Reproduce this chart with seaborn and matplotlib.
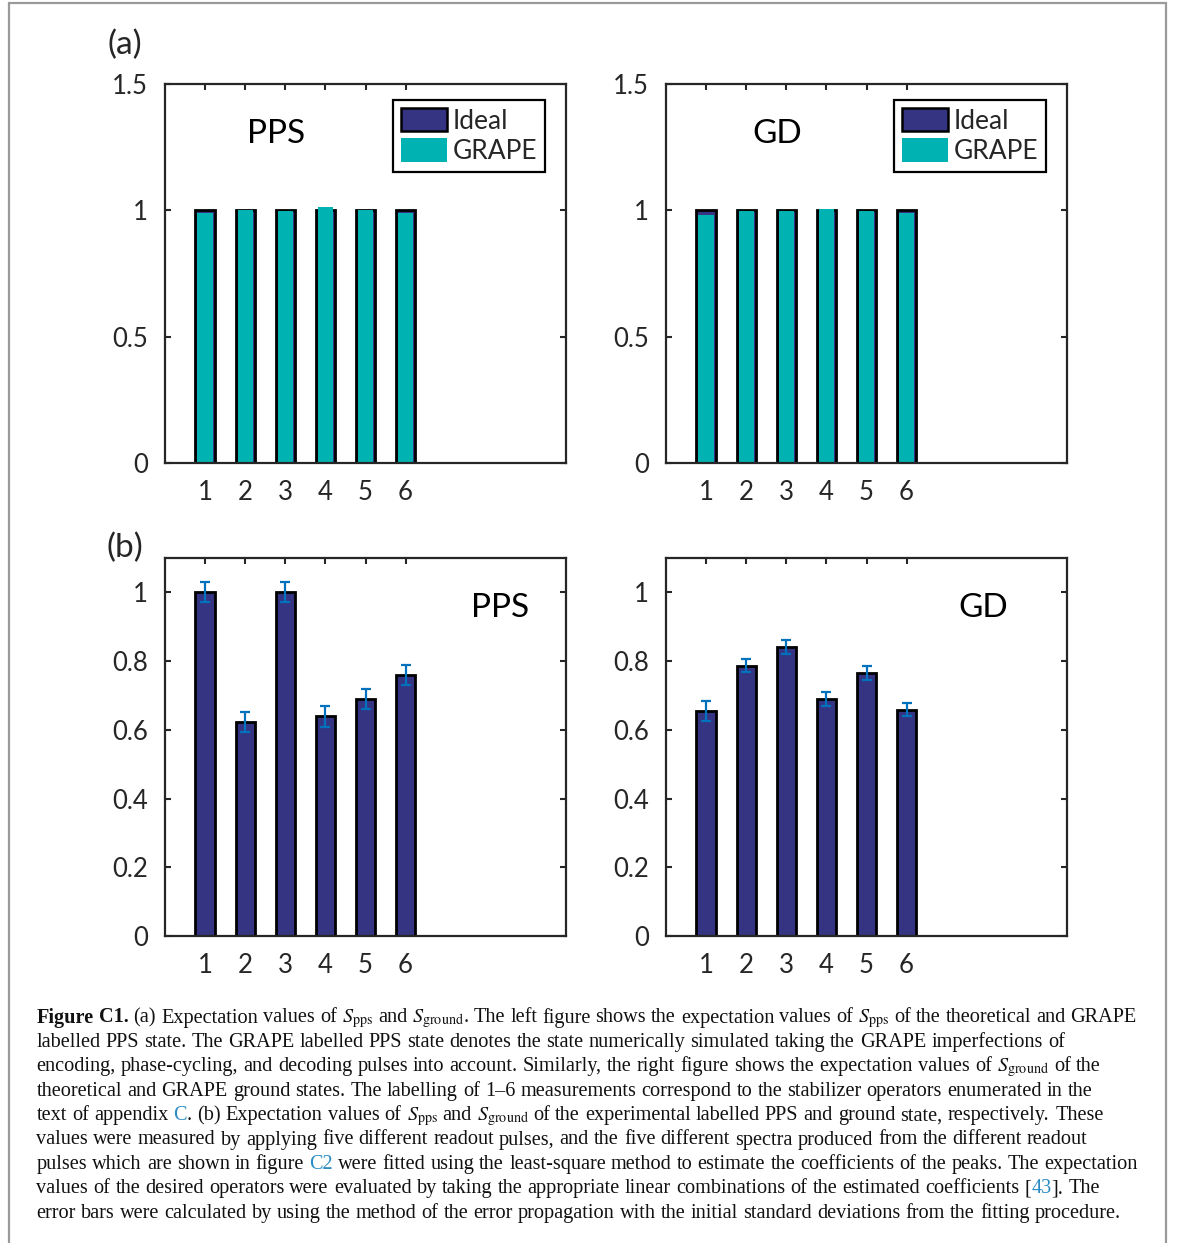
import numpy as np
import pandas as pd
import matplotlib.pyplot as plt
import seaborn as sns
from matplotlib.patches import Patch, Rectangle

# stabilizer index 1-6
stabilizers = [1, 2, 3, 4, 5, 6]

# (a) theory vs GRAPE simulation
pps_ideal = [1.0, 1.0, 1.0, 1.0, 1.0, 1.0]
pps_grape = [0.988, 1.0, 0.998, 1.012, 1.0, 0.99]
gd_ideal = [1.0, 1.0, 1.0, 1.0, 1.0, 1.0]
gd_grape = [0.982, 0.996, 0.996, 1.006, 0.996, 0.988]

# (b) experiment with error bars
pps_exp = [1.0, 0.622, 1.0, 0.639, 0.689, 0.759]
pps_err = [0.029, 0.029, 0.029, 0.030, 0.029, 0.029]
gd_exp = [0.655, 0.787, 0.841, 0.689, 0.765, 0.659]
gd_err = [0.028, 0.020, 0.020, 0.020, 0.020, 0.019]

NAVY = '#353482'
TEAL = '#00b2b2'
ERR = '#0072bd'
AXC = '#262626'
LINK = '#2b8cc4'

sns.set_style('ticks')
plt.rcParams['font.family'] = ['Lato', 'DejaVu Sans']
plt.rcParams['mathtext.fontset'] = 'stix'

W, H = 1182, 1243
fig = plt.figure(figsize=(W / 100, H / 100), dpi=100)


def px_axes(left, top, right, bottom):
    return fig.add_axes([left / W, 1 - bottom / H, (right - left) / W, (bottom - top) / H])


def style_axes(ax, ymax, yticks, ylabels):
    ax.set_xlim(0, 10)
    ax.set_ylim(0, ymax)
    ax.set_xticks(stabilizers)
    ax.set_xticklabels([str(s) for s in stabilizers])
    ax.set_yticks(yticks)
    ax.set_yticklabels(ylabels)
    ax.tick_params(direction='in', length=4, width=1.5, top=True, right=True,
                   labelsize=18.5, labelcolor=AXC, color=AXC, pad=12)
    for sp in ax.spines.values():
        sp.set_visible(True)
        sp.set_linewidth(1.6)
        sp.set_color(AXC)
    ax.set_xlabel('')
    ax.set_ylabel('')


# (a) panels
for left, ideal, grape, name in [(165, pps_ideal, pps_grape, 'PPS'),
                                 (666, gd_ideal, gd_grape, 'GD')]:
    ax = px_axes(left, 84, left + 401, 463)
    df = pd.DataFrame({'s': stabilizers, 'ideal': ideal, 'grape': grape})
    sns.barplot(data=df, x='s', y='ideal', native_scale=True, width=0.48,
                color=NAVY, saturation=1, edgecolor='black', linewidth=2.0,
                errorbar=None, ax=ax)
    sns.barplot(data=df, x='s', y='grape', native_scale=True, width=0.38,
                color=TEAL, saturation=1, linewidth=0, errorbar=None, ax=ax)
    style_axes(ax, 1.5, [0, 0.5, 1, 1.5], ['0', '0.5', '1', '1.5'])
    ax.text(0.277, 0.868, name, transform=ax.transAxes, ha='center', va='center',
            fontsize=24, color='black')
    handles = [Patch(facecolor=NAVY, edgecolor='black', linewidth=1.8, label='Ideal'),
               Patch(facecolor=TEAL, edgecolor='none', label='GRAPE')]
    leg = ax.legend(handles=handles, loc='upper left', bbox_to_anchor=(0.569, 0.958),
                    fontsize=19, frameon=True, fancybox=False, framealpha=1,
                    borderaxespad=0, borderpad=0.3, handlelength=1.75, handleheight=1.0,
                    handletextpad=0.2, labelspacing=0.18)
    leg.get_frame().set_edgecolor('black')
    leg.get_frame().set_linewidth(1.6)

# (b) panels
for left, vals, errs, name, tx in [(165, pps_exp, pps_err, 'PPS', 0.835),
                                   (666, gd_exp, gd_err, 'GD', 0.79)]:
    ax = px_axes(left, 558, left + 401, 936)
    df = pd.DataFrame({'s': stabilizers, 'v': vals, 'e': errs})
    sns.barplot(data=df, x='s', y='v', native_scale=True, width=0.48,
                color=NAVY, saturation=1, edgecolor='black', linewidth=2.0,
                errorbar=None, ax=ax)
    ax.errorbar(df['s'], df['v'], yerr=df['e'], fmt='none', ecolor=ERR,
                elinewidth=1.6, capsize=3.5, capthick=1.6, zorder=5)
    style_axes(ax, 1.1, [0, 0.2, 0.4, 0.6, 0.8, 1.0],
               ['0', '0.2', '0.4', '0.6', '0.8', '1'])
    ax.text(tx, 0.868, name, transform=ax.transAxes, ha='center', va='center',
            fontsize=24, color='black')

fig.text(125 / W, 1 - 45 / H, '(a)', ha='center', va='center', fontsize=24)
fig.text(125 / W, 1 - 548 / H, '(b)', ha='center', va='center', fontsize=24)

# page frame
fig.patches.append(Rectangle((8.5 / W, -0.1), (1165.5 - 8.5) / W, 1.1 - 3.5 / H,
                             transform=fig.transFigure, fill=False,
                             edgecolor='#9a9a9a', linewidth=1.6))

# caption
S_PPS = r'$S_{\mathrm{pps}}$'
S_GR = r'$S_{\mathrm{ground}}$'
caption_lines = [
    [('Figure C1.', 'b'), (' (a) Expectation values of ' + S_PPS + ' and ' + S_GR
                           + '. The left figure shows the expectation values of ' + S_PPS
                           + ' of the theoretical and GRAPE', 'n')],
    [('labelled PPS state. The GRAPE labelled PPS state denotes the state numerically '
      'simulated taking the GRAPE imperfections of', 'n')],
    [('encoding, phase-cycling, and decoding pulses into account. Similarly, the right '
      'figure shows the expectation values of ' + S_GR + ' of the', 'n')],
    [('theoretical and GRAPE ground states. The labelling of 1\u20136 measurements '
      'correspond to the stabilizer operators enumerated in the', 'n')],
    [('text of appendix ', 'n'), ('C', 'l'),
     ('. (b) Expectation values of ' + S_PPS + ' and ' + S_GR + ' of the experimental '
      'labelled PPS and ground state, respectively. These', 'n')],
    [('values were measured by applying five different readout pulses, and the five '
      'different spectra produced from the different readout', 'n')],
    [('pulses which are shown in figure ', 'n'), ('C2', 'l'),
     (' were fitted using the least-square method to estimate the coefficients of the '
      'peaks. The expectation', 'n')],
    [('values of the desired operators were evaluated by taking the appropriate linear '
      'combinations of the estimated coefficients [', 'n'), ('43', 'l'), ('].', 'n'),
     (' The', 'n')],
    [('error bars were calculated by using the method of the error propagation with the '
      'initial standard deviations from the fitting procedure.', 'n')],
]

renderer = fig.canvas.get_renderer()


def kw(st, fs):
    d = dict(fontsize=fs, family=['Liberation Serif', 'DejaVu Serif'], color='#111111')
    if st == 'b':
        d['fontweight'] = 'bold'
    if st == 'l':
        d['color'] = LINK
    return d


def text_w(s, st, fs):
    t1 = fig.text(0, 0, '|' + s + '|', **kw(st, fs))
    t2 = fig.text(0, 0, '||', **kw(st, fs))
    w = t1.get_window_extent(renderer).width - t2.get_window_extent(renderer).width
    t1.remove()
    t2.remove()
    return w


def draw_line(pieces, x0, y, fs, draw=True):
    sp = text_w(' ', 'n', fs)
    x = x0
    for text, st in pieces:
        s = text.lstrip(' ')
        x += sp * (len(text) - len(s))
        if draw:
            # place word by word, positions taken from the run-in prefix width
            bias = 2 * text_w('n', st, fs) - text_w('nn', st, fs)
            words = s.split(' ')
            for k, word in enumerate(words):
                if not word:
                    continue
                dx = 0 if k == 0 else text_w(' '.join(words[:k]) + ' ', st, fs) - bias
                fig.text((x + dx) / W, 1 - y / H, word, ha='left', va='baseline',
                         **kw(st, fs))
        x += text_w(s, st, fs)
    return x - x0


fs0 = 13.0
w1 = draw_line(caption_lines[0], 0, 0, fs0, draw=False)
fs = fs0 * 1097 / w1
for i, line in enumerate(caption_lines):
    draw_line(line, 36.5, 1022.5 + 24.4 * i, fs)

fig.savefig('out.png', dpi=100)
